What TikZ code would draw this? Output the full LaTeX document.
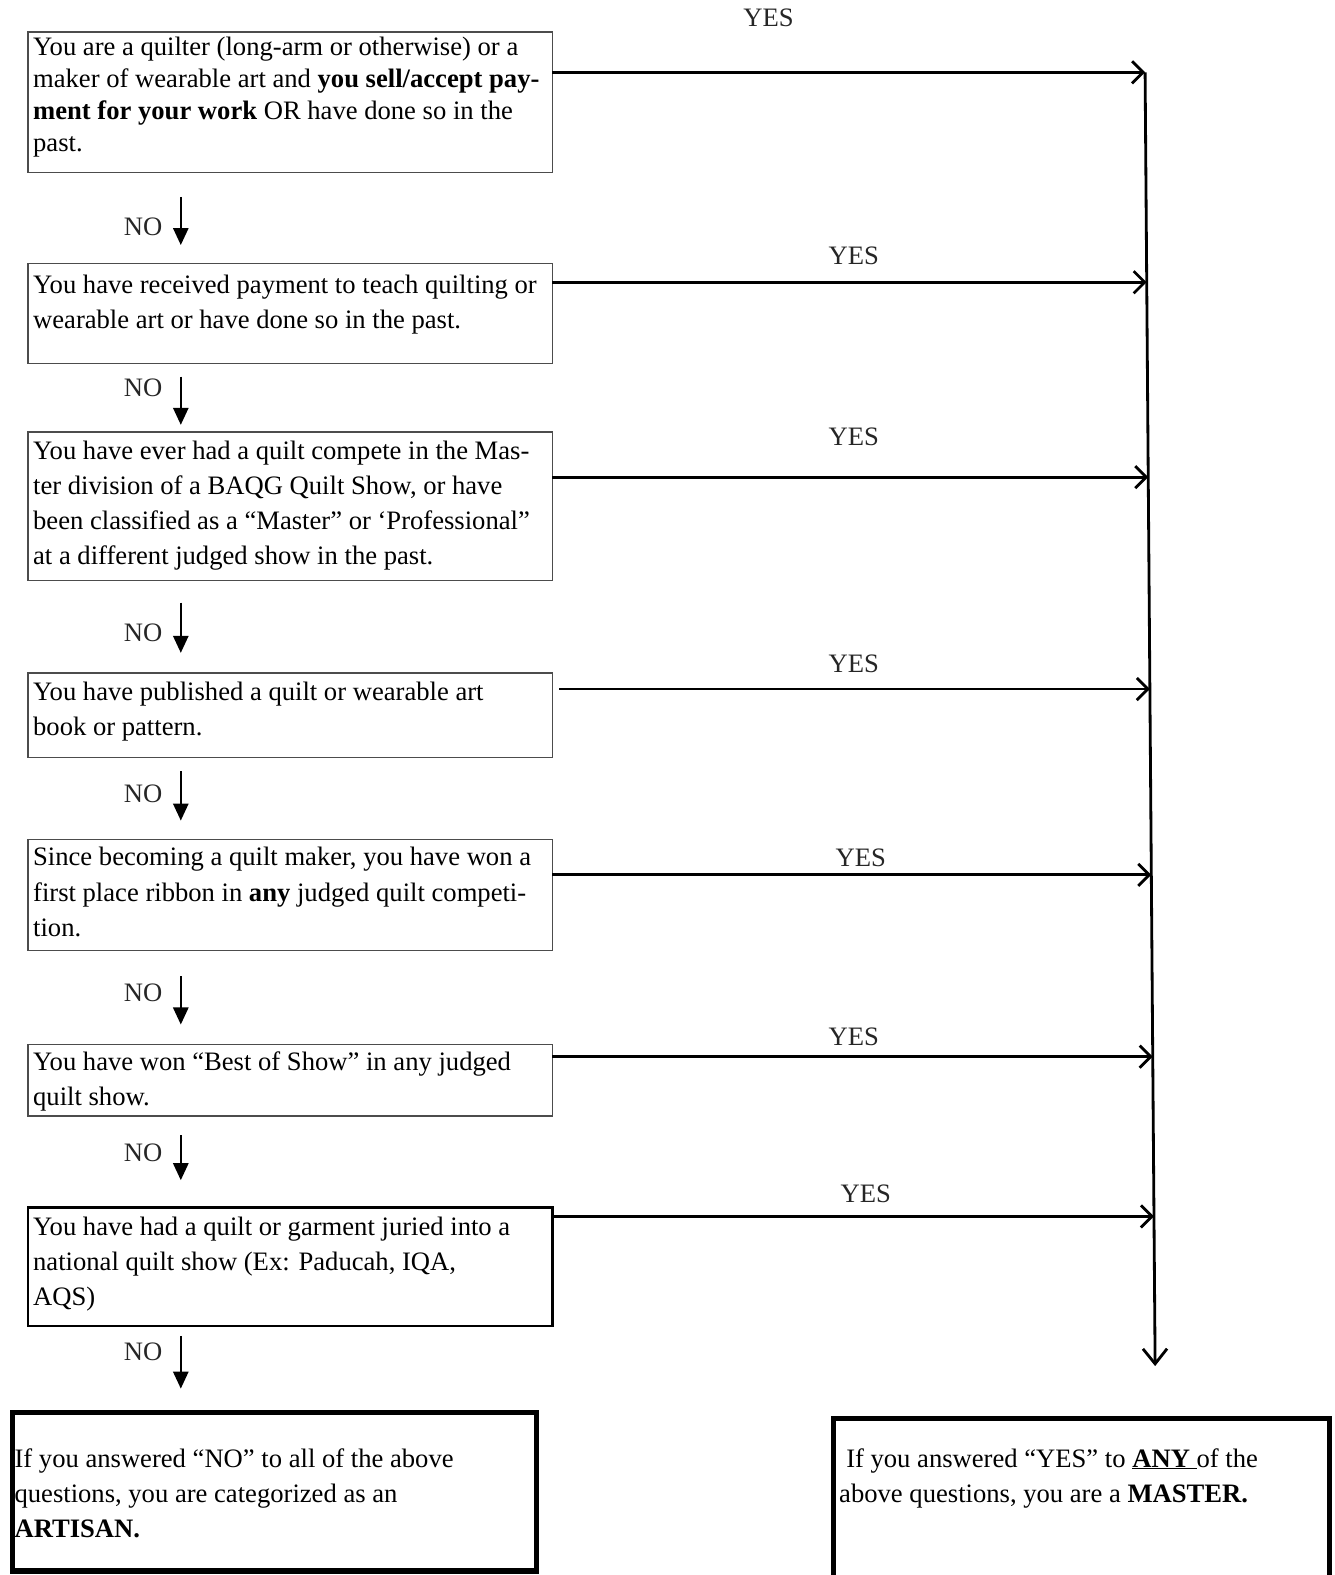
\documentclass[tikz,border=0pt]{standalone}
\usepackage{fontspec}
\setmainfont{Liberation Serif}
\usetikzlibrary{arrows.meta,calc}
\newcommand{\qtxt}[4]{\parbox[c][#1][t]{#2}{\vspace*{#3}\raggedright\strut #4}}
\begin{document}
\begin{tikzpicture}[x=1pt,y=1pt,
  font=\fontsize{26.5}{35}\selectfont,
  qbox/.style={draw=black!70, line width=1.3pt, inner xsep=5pt, inner ysep=0pt, anchor=north west, outer sep=0pt},
  qboxb/.style={qbox, draw=black, line width=2.4pt},
  endbox/.style={draw=black, line width=5pt, inner ysep=0pt, anchor=north west, outer sep=0pt},
  noarr/.style={line width=2.6pt, -{Triangle[length=17pt,width=15pt]}},
  nolab/.style={anchor=east, xshift=-17pt, inner sep=0pt, text=black!85},
  yesarr/.style={line width=2.8pt, -{Straight Barb[length=11pt,width=22pt]}},
  vline/.style={line width=2.8pt, line join=round, -{Straight Barb[length=15pt,width=24pt]}},
  yeslab/.style={inner sep=0pt, text=black!85}]
\useasboundingbox (0,0) rectangle (1329,-1568);
\clip (0,0) rectangle (1329,-1568);
% question boxes
\node[qbox, font=\fontsize{26.5}{32}\selectfont] (b1) at (28,-32) {\qtxt{140pt}{512pt}{0.6pt}{You are a quilter (long-arm or otherwise) or a\\ maker of wearable art and \textbf{you sell/accept pay-}\\ \textbf{ment for your work} OR have done so in the\\ past.}};
\node[qbox] (b2) at (28,-262) {\qtxt{100pt}{512pt}{5.5pt}{You have received payment to teach quilting or\\ wearable art or have done so in the past.}};
\node[qbox] (b3) at (28,-430) {\qtxt{148pt}{512pt}{2.5pt}{You have ever had a quilt compete in the Mas-\\ ter division of a BAQG Quilt Show, or have\\ been classified as a “Master” or ‘Professional”\\ at a different judged show in the past.}};
\node[qbox] (b4) at (28,-670) {\qtxt{84pt}{512pt}{2.5pt}{You have published a quilt or wearable art\\ book or pattern.}};
\node[qbox] (b5) at (28,-836) {\qtxt{110pt}{512pt}{1.5pt}{Since becoming a quilt maker, you have won a\\ first place ribbon in \textbf{any} judged quilt competi-\\ tion.}};
\node[qbox] (b6) at (28,-1040) {\qtxt{71pt}{512pt}{1.5pt}{You have won “Best of Show” in any judged\\ quilt show.}};
\node[qboxb] (b7) at (28,-1202) {\qtxt{118pt}{512pt}{3.5pt}{You have had a quilt or garment juried into a\\ national quilt show (Ex: Paducah, IQA,\\ AQS)}};
% result boxes
\node[endbox, inner xsep=2pt] (art) at (12.5,-1406.5) {\qtxt{157.5pt}{518pt}{29.5pt}{If you answered “NO” to all of the above\\ questions, you are categorized as an\\ \textbf{ARTISAN.}}};
\node[endbox, inner xsep=6pt] (mas) at (829.5,-1412.5) {\qtxt{175pt}{482pt}{23.5pt}{\hspace{7pt}If you answered “YES” to \underline{\textbf{ANY}\ }of the\\ above questions, you are a \textbf{MASTER.}}};
% NO arrows
\coordinate (nox) at (180,0);
\draw[noarr, shorten <=24pt, shorten >=18pt] (b1.south -| nox) -- node[nolab, pos=.6] {NO} (b2.north -| nox);
\draw[noarr, shorten <=13pt, shorten >=7pt] (b2.south -| nox) -- node[nolab, pos=.35] {NO} (b3.north -| nox);
\draw[noarr, shorten <=22pt, shorten >=20pt] (b3.south -| nox) -- node[nolab, pos=.565] {NO} (b4.north -| nox);
\draw[noarr, shorten <=14pt, shorten >=19pt] (b4.south -| nox) -- node[nolab, pos=.44] {NO} (b5.north -| nox);
\draw[noarr, shorten <=26pt, shorten >=20pt] (b5.south -| nox) -- node[nolab, pos=.45] {NO} (b6.north -| nox);
\draw[noarr, shorten <=19pt, shorten >=27pt] (b6.south -| nox) -- node[nolab, pos=.4] {NO} (b7.north -| nox);
\draw[noarr, shorten <=10pt, shorten >=24pt] (b7.south -| nox) -- node[nolab, pos=.3] {NO} (art.north -| nox);
% collector line
\coordinate (v1) at (1140,-72);
\coordinate (vb) at (1150,-1360);
\coordinate (v2) at ($(v1)!{(281-72)/1288}!(vb)$);
\coordinate (v3) at ($(v1)!{(475-72)/1288}!(vb)$);
\coordinate (v4) at ($(v1)!{(686-72)/1288}!(vb)$);
\coordinate (v5) at ($(v1)!{(871-72)/1288}!(vb)$);
\coordinate (v6) at ($(v1)!{(1052-72)/1288}!(vb)$);
\coordinate (v7) at ($(v1)!{(1211-72)/1288}!(vb)$);
\draw[vline] (v1) -- (vb);
% YES arrows
\draw[yesarr] (b1.east |- v1) -- (v1);
\draw[yesarr] (b2.east |- v2) -- (v2);
\draw[yesarr] (b3.east |- v3) -- (v3);
\draw[yesarr, shorten <=7pt] (b4.east |- v4) -- (v4);
\draw[yesarr] (b5.east |- v5) -- (v5);
\draw[yesarr] (b6.east |- v6) -- (v6);
\draw[yesarr] (b7.east |- v7) -- (v7);
\node[yeslab] (y1) at (765,-18) {YES};
\node[yeslab] (y2) at (850,-255) {YES};
\node[yeslab] (y3) at (850,-435) {YES};
\node[yeslab] (y4) at (850,-661) {YES};
\node[yeslab] (y5) at (857,-854) {YES};
\node[yeslab] (y6) at (850,-1032) {YES};
\node[yeslab] (y7) at (862,-1188) {YES};
\end{tikzpicture}
\end{document}
